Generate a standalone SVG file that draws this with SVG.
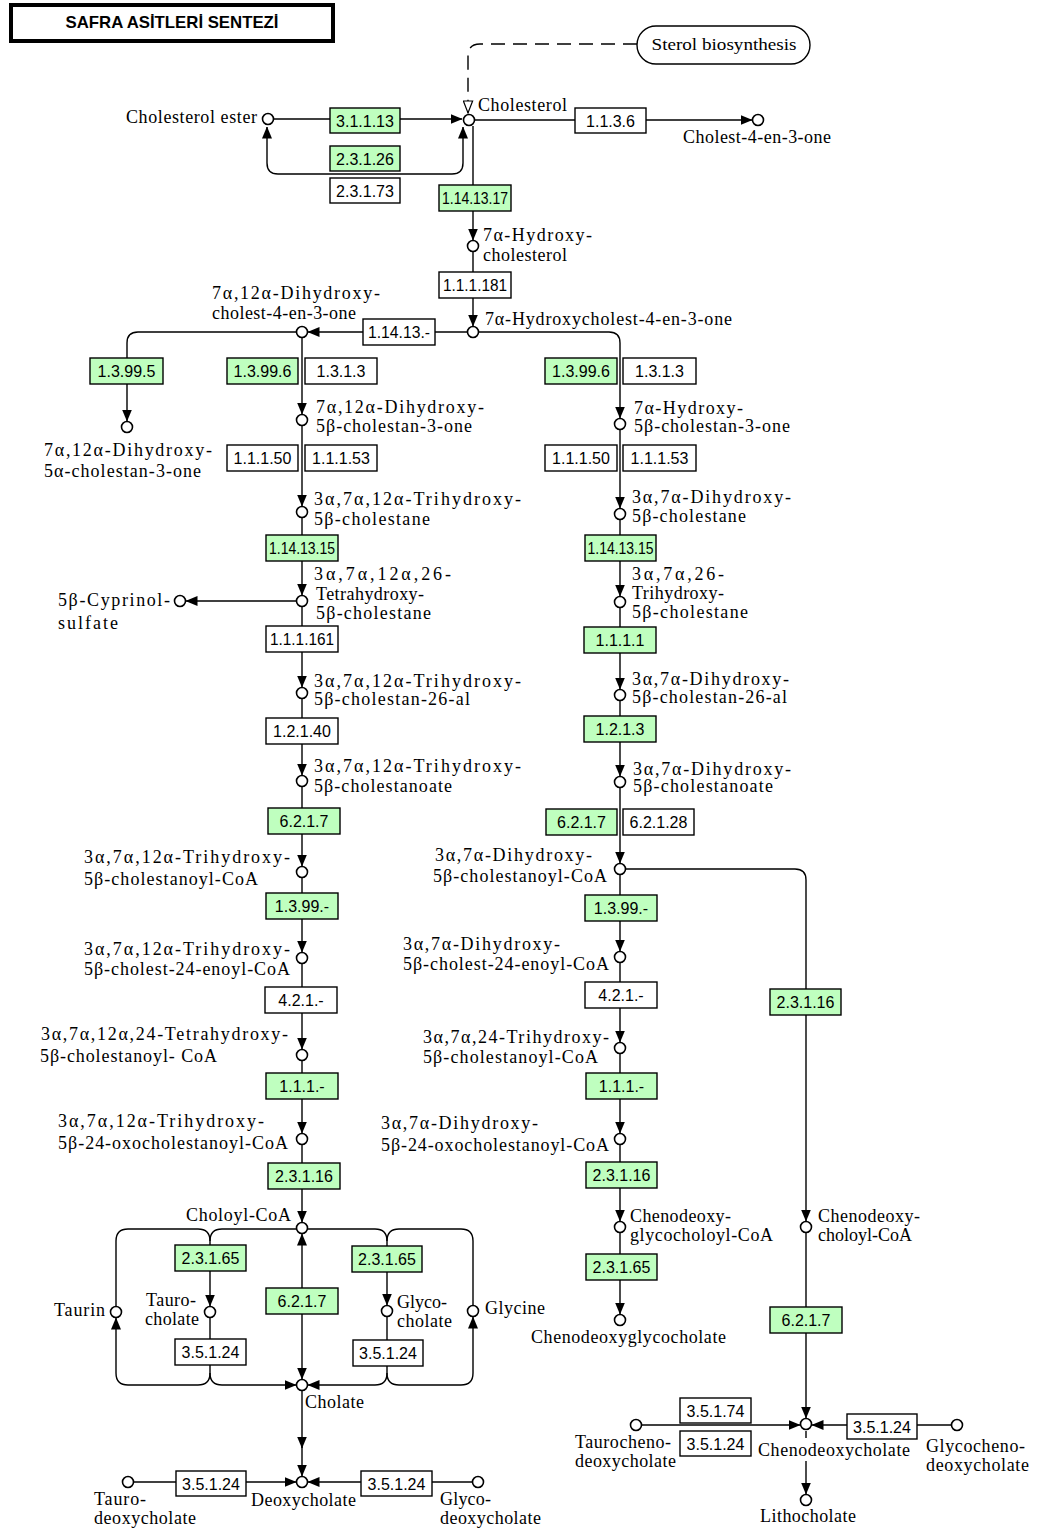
<svg xmlns="http://www.w3.org/2000/svg" width="1038" height="1531" viewBox="0 0 1038 1531">
<style>
.bg{fill:#fff}
.e rect{fill:#fff;stroke:#000;stroke-width:1.4}
.g rect{fill:#bfffbf}
.e text{font-family:"Liberation Sans",Arial,sans-serif;font-size:16px;text-anchor:middle;fill:#000}
.c circle{fill:#fff;stroke:#000;stroke-width:1.6}
.c text{font-family:"Liberation Serif","Times New Roman",serif;font-size:18px;fill:#000}
.ln{fill:none;stroke:#000;stroke-width:1.4}
.dash{fill:none;stroke:#000;stroke-width:1.4;stroke-dasharray:14,8}
.ar{marker-end:url(#a)}
.ar2{marker-start:url(#a);marker-end:url(#a)}
</style>
<defs>
<marker id="a" viewBox="0 0 12 11" refX="11.5" refY="5.5" markerWidth="12" markerHeight="11" markerUnits="userSpaceOnUse" orient="auto-start-reverse"><path d="M0,0.5 L12,5.5 L0,10.5 z" fill="#000"/></marker>
<marker id="o" viewBox="0 0 12 10" refX="11.5" refY="5" markerWidth="14" markerHeight="11" markerUnits="userSpaceOnUse" orient="auto"><path d="M0.6,0.8 L11.4,5 L0.6,9.2 z" fill="#fff" stroke="#000" stroke-width="1.1"/></marker>
</defs>
<rect class="bg" x="0" y="0" width="1038" height="1531"/>

<g id="title">
<rect x="11" y="5" width="322" height="36" fill="#fff" stroke="#000" stroke-width="4"/>
<text x="172" y="28" font-family="Liberation Sans,Arial,sans-serif" font-weight="bold" font-size="17" text-anchor="middle" textLength="213" lengthAdjust="spacingAndGlyphs">SAFRA ASİTLERİ SENTEZİ</text>
</g>

<g id="connectors">
<path class="dash" d="M637,44 H480 Q468,44 468,56 V113" marker-end="url(#o)"/>
<path class="ln ar" d="M274,119 H462"/>
<path class="ln ar2" d="M267,127 V163 Q267,174 278,174 H452 Q463,174 463,163 V127"/>
<path class="ln ar" d="M475,120 H752"/>
<path class="ln ar" d="M473,126 V240"/>
<path class="ln ar" d="M473,252 V326"/>
<path class="ln ar" d="M467,332 H308"/>
<path class="ln ar" d="M296,332 H138 Q127,332 127,343 V421"/>
<path class="ln ar" d="M302,338 V414"/>
<path class="ln ar" d="M302,426 V506"/>
<path class="ln ar" d="M302,518 V595"/>
<path class="ln ar" d="M296,601 H186"/>
<path class="ln ar" d="M302,607 V687"/>
<path class="ln ar" d="M302,699 V775"/>
<path class="ln ar" d="M302,787 V866"/>
<path class="ln ar" d="M302,878 V952"/>
<path class="ln ar" d="M302,964 V1049"/>
<path class="ln ar" d="M302,1061 V1133"/>
<path class="ln ar" d="M302,1145 V1222"/>
<path class="ln ar" d="M479,332 H609 Q620,332 620,343 V418"/>
<path class="ln ar" d="M620,430 V508"/>
<path class="ln ar" d="M620,520 V596"/>
<path class="ln ar" d="M620,608 V689"/>
<path class="ln ar" d="M620,701 V776"/>
<path class="ln ar" d="M620,788 V863"/>
<path class="ln ar" d="M626,869 H795 Q806,869 806,880 V1221"/>
<path class="ln ar" d="M620,875 V951"/>
<path class="ln ar" d="M620,963 V1042"/>
<path class="ln ar" d="M620,1054 V1133"/>
<path class="ln ar" d="M620,1145 V1221"/>
<path class="ln ar" d="M620,1233 V1314"/>
<path class="ln ar" d="M806,1233 V1418"/>
<path class="ln ar" d="M642,1425 H800"/>
<path class="ln ar" d="M951,1425 H812"/>
<path class="ln" d="M806,1431 V1438"/>
<path class="ln ar" d="M806,1461 V1494"/>
<path class="ln" d="M116,1306 V1241 Q116,1229 128,1229 H198 Q210,1229 210,1241 V1246"/>
<path class="ln" d="M296,1229 H222 Q210,1229 210,1241"/>
<path class="ln ar" d="M210,1271 V1306"/>
<path class="ln" d="M210,1318 V1340"/>
<path class="ln ar" d="M210,1365 V1373 Q210,1385 198,1385 H128 Q116,1385 116,1373 V1318"/>
<path class="ln ar" d="M210,1373 Q210,1385 222,1385 H296"/>
<path class="ln" d="M308,1229 H375 Q387,1229 387,1241 V1246"/>
<path class="ln" d="M473,1305 V1241 Q473,1229 461,1229 H399 Q387,1229 387,1241"/>
<path class="ln ar" d="M387,1272 V1305"/>
<path class="ln" d="M387,1317 V1340"/>
<path class="ln ar" d="M387,1366 V1373 Q387,1385 375,1385 H308"/>
<path class="ln ar" d="M387,1373 Q387,1385 399,1385 H461 Q473,1385 473,1373 V1317"/>
<path class="ln ar2" d="M302,1234 V1379"/>
<path class="ln ar" d="M302,1391 V1448"/>
<path class="ln ar" d="M302,1446 V1476"/>
<path class="ln ar" d="M134,1482 H296"/>
<path class="ln ar" d="M472,1482 H308"/>
</g>

<g id="sterol-biosynthesis"><rect x="637" y="26" width="173" height="38" rx="19" fill="#fff" stroke="#000" stroke-width="1.4"/><text x="724" y="50" font-family="Liberation Serif,serif" font-size="17" text-anchor="middle" textLength="145" lengthAdjust="spacingAndGlyphs">Sterol biosynthesis</text></g>

<g id="c-cholesterol" class="c"><circle cx="469" cy="120" r="5.5"/><text x="478" y="111" textLength="89">Cholesterol</text></g>
<g id="c-cholesterol-ester" class="c"><circle cx="268" cy="119" r="5.5"/><text x="126" y="123" textLength="131">Cholesterol ester</text></g>
<g id="c-cholest-4-en-3-one" class="c"><circle cx="758" cy="120" r="5.5"/><text x="683" y="143" textLength="148">Cholest-4-en-3-one</text></g>
<g id="c-7a-hydroxycholesterol" class="c"><circle cx="473" cy="246" r="5.5"/><text x="483" y="241" textLength="109">7α-Hydroxy-</text><text x="483" y="261" textLength="84">cholesterol</text></g>
<g id="c-7a-hydroxycholest-4-en-3-one" class="c"><circle cx="473" cy="332" r="5.5"/><text x="485" y="325" textLength="247">7α-Hydroxycholest-4-en-3-one</text></g>
<g id="c-7a12a-dihydroxycholest-4-en-3-one" class="c"><circle cx="302" cy="332" r="5.5"/><text x="212" y="299" textLength="168">7α,12α-Dihydroxy-</text><text x="212" y="319" textLength="144">cholest-4-en-3-one</text></g>
<g id="c-7a12a-dihydroxy-5a-cholestan-3-one" class="c"><circle cx="127" cy="427" r="5.5"/><text x="44" y="456" textLength="168">7α,12α-Dihydroxy-</text><text x="44" y="477" textLength="157">5α-cholestan-3-one</text></g>
<g id="c-7a12a-dihydroxy-5b-cholestan-3-one" class="c"><circle cx="302" cy="420" r="5.5"/><text x="316" y="413" textLength="168">7α,12α-Dihydroxy-</text><text x="316" y="432" textLength="156">5β-cholestan-3-one</text></g>
<g id="c-trihydroxy-5b-cholestane" class="c"><circle cx="302" cy="512" r="5.5"/><text x="314" y="505" textLength="207">3α,7α,12α-Trihydroxy-</text><text x="314" y="525" textLength="116">5β-cholestane</text></g>
<g id="c-tetrahydroxy-5b-cholestane" class="c"><circle cx="302" cy="601" r="5.5"/><text x="314" y="580" textLength="137">3α,7α,12α,26-</text><text x="316" y="600" textLength="108">Tetrahydroxy-</text><text x="316" y="619" textLength="115">5β-cholestane</text></g>
<g id="c-5b-cyprinol-sulfate" class="c"><circle cx="180" cy="601" r="5.5"/><text x="58" y="606" textLength="112">5β-Cyprinol-</text><text x="58" y="629" font-size="20" textLength="60">sulfate</text></g>
<g id="c-trihydroxy-5b-cholestan-26-al" class="c"><circle cx="302" cy="693" r="5.5"/><text x="314" y="687" textLength="207">3α,7α,12α-Trihydroxy-</text><text x="314" y="705" textLength="156">5β-cholestan-26-al</text></g>
<g id="c-trihydroxy-5b-cholestanoate" class="c"><circle cx="302" cy="781" r="5.5"/><text x="314" y="772" textLength="207">3α,7α,12α-Trihydroxy-</text><text x="314" y="792" textLength="138">5β-cholestanoate</text></g>
<g id="c-trihydroxy-5b-cholestanoyl-coa" class="c"><circle cx="302" cy="872" r="5.5"/><text x="84" y="863" textLength="206">3α,7α,12α-Trihydroxy-</text><text x="84" y="885" textLength="174">5β-cholestanoyl-CoA</text></g>
<g id="c-trihydroxy-5b-cholest-24-enoyl-coa" class="c"><circle cx="302" cy="958" r="5.5"/><text x="84" y="955" textLength="206">3α,7α,12α-Trihydroxy-</text><text x="84" y="975" textLength="206">5β-cholest-24-enoyl-CoA</text></g>
<g id="c-tetrahydroxy-5b-cholestanoyl-coa" class="c"><circle cx="302" cy="1055" r="5.5"/><text x="41" y="1040" textLength="247">3α,7α,12α,24-Tetrahydroxy-</text><text x="40" y="1062" textLength="177">5β-cholestanoyl- CoA</text></g>
<g id="c-trihydroxy-5b-24-oxocholestanoyl-coa" class="c"><circle cx="302" cy="1139" r="5.5"/><text x="58" y="1127" textLength="206">3α,7α,12α-Trihydroxy-</text><text x="58" y="1149" textLength="230">5β-24-oxocholestanoyl-CoA</text></g>
<g id="c-choloyl-coa" class="c"><circle cx="302" cy="1228" r="5.5"/><text x="186" y="1221" textLength="105">Choloyl-CoA</text></g>
<g id="c-taurocholate" class="c"><circle cx="210" cy="1312" r="5.5"/><text x="146" y="1306" textLength="50">Tauro-</text><text x="145" y="1325" textLength="54">cholate</text></g>
<g id="c-taurin" class="c"><circle cx="116" cy="1312" r="5.5"/><text x="54" y="1316" textLength="51">Taurin</text></g>
<g id="c-glycocholate" class="c"><circle cx="387" cy="1311" r="5.5"/><text x="397" y="1308" textLength="50">Glyco-</text><text x="397" y="1327" textLength="55">cholate</text></g>
<g id="c-glycine" class="c"><circle cx="473" cy="1311" r="5.5"/><text x="485" y="1314" textLength="60">Glycine</text></g>
<g id="c-cholate" class="c"><circle cx="302" cy="1385" r="5.5"/><text x="305" y="1408" textLength="59">Cholate</text></g>
<g id="c-deoxycholate" class="c"><circle cx="302" cy="1482" r="5.5"/><text x="251" y="1506" textLength="105">Deoxycholate</text></g>
<g id="c-taurodeoxycholate" class="c"><circle cx="128" cy="1482" r="5.5"/><text x="94" y="1505" textLength="52">Tauro-</text><text x="94" y="1524" textLength="102">deoxycholate</text></g>
<g id="c-glycodeoxycholate" class="c"><circle cx="478" cy="1482" r="5.5"/><text x="440" y="1505" textLength="51">Glyco-</text><text x="440" y="1524" textLength="101">deoxycholate</text></g>

<g id="c-7a-hydroxy-5b-cholestan-3-one" class="c"><circle cx="620" cy="424" r="5.5"/><text x="634" y="414" textLength="109">7α-Hydroxy-</text><text x="634" y="432" textLength="156">5β-cholestan-3-one</text></g>
<g id="c-dihydroxy-5b-cholestane" class="c"><circle cx="620" cy="514" r="5.5"/><text x="632" y="503" textLength="159">3α,7α-Dihydroxy-</text><text x="632" y="522" textLength="114">5β-cholestane</text></g>
<g id="c-trihydroxy26-5b-cholestane" class="c"><circle cx="620" cy="602" r="5.5"/><text x="632" y="580" textLength="92">3α,7α,26-</text><text x="632" y="599" textLength="92">Trihydroxy-</text><text x="632" y="618" textLength="116">5β-cholestane</text></g>
<g id="c-dihydroxy-5b-cholestan-26-al" class="c"><circle cx="620" cy="695" r="5.5"/><text x="632" y="685" textLength="157">3α,7α-Dihydroxy-</text><text x="632" y="703" textLength="155">5β-cholestan-26-al</text></g>
<g id="c-dihydroxy-5b-cholestanoate" class="c"><circle cx="620" cy="782" r="5.5"/><text x="633" y="775" textLength="158">3α,7α-Dihydroxy-</text><text x="633" y="792" textLength="140">5β-cholestanoate</text></g>
<g id="c-dihydroxy-5b-cholestanoyl-coa" class="c"><circle cx="620" cy="869" r="5.5"/><text x="435" y="861" textLength="157">3α,7α-Dihydroxy-</text><text x="433" y="882" textLength="174">5β-cholestanoyl-CoA</text></g>
<g id="c-dihydroxy-5b-cholest-24-enoyl-coa" class="c"><circle cx="620" cy="957" r="5.5"/><text x="403" y="950" textLength="157">3α,7α-Dihydroxy-</text><text x="403" y="970" textLength="206">5β-cholest-24-enoyl-CoA</text></g>
<g id="c-trihydroxy24-5b-cholestanoyl-coa" class="c"><circle cx="620" cy="1048" r="5.5"/><text x="423" y="1043" textLength="186">3α,7α,24-Trihydroxy-</text><text x="423" y="1063" textLength="175">5β-cholestanoyl-CoA</text></g>
<g id="c-dihydroxy-5b-24-oxocholestanoyl-coa" class="c"><circle cx="620" cy="1139" r="5.5"/><text x="381" y="1129" textLength="157">3α,7α-Dihydroxy-</text><text x="381" y="1151" textLength="228">5β-24-oxocholestanoyl-CoA</text></g>
<g id="c-chenodeoxyglycocholoyl-coa" class="c"><circle cx="620" cy="1227" r="5.5"/><text x="630" y="1222" textLength="101">Chenodeoxy-</text><text x="630" y="1241" textLength="143">glycocholoyl-CoA</text></g>
<g id="c-chenodeoxyglycocholate" class="c"><circle cx="620" cy="1320" r="5.5"/><text x="531" y="1343" textLength="195">Chenodeoxyglycocholate</text></g>
<g id="c-chenodeoxycholoyl-coa" class="c"><circle cx="806" cy="1227" r="5.5"/><text x="818" y="1222" textLength="102">Chenodeoxy-</text><text x="818" y="1241" textLength="94">choloyl-CoA</text></g>
<g id="c-chenodeoxycholate" class="c"><circle cx="806" cy="1424" r="5.5"/><text x="758" y="1456" textLength="152">Chenodeoxycholate</text></g>
<g id="c-taurochenodeoxycholate" class="c"><circle cx="636" cy="1425" r="5.5"/><text x="575" y="1448" textLength="96">Taurocheno-</text><text x="575" y="1467" textLength="101">deoxycholate</text></g>
<g id="c-glycochenodeoxycholate" class="c"><circle cx="957" cy="1425" r="5.5"/><text x="926" y="1452" textLength="99">Glycocheno-</text><text x="926" y="1471" textLength="103">deoxycholate</text></g>
<g id="c-lithocholate" class="c"><circle cx="806" cy="1500" r="5.5"/><text x="760" y="1522" textLength="96">Lithocholate</text></g>

<g id="e-3.1.1.13" class="e g"><rect x="330" y="108" width="70" height="25"/><text x="365" y="126.5">3.1.1.13</text></g>
<g id="e-2.3.1.26" class="e g"><rect x="330" y="146" width="70" height="25"/><text x="365" y="164.5">2.3.1.26</text></g>
<g id="e-2.3.1.73" class="e"><rect x="330" y="178" width="70" height="25"/><text x="365" y="196.5">2.3.1.73</text></g>
<g id="e-1.1.3.6" class="e"><rect x="575" y="108" width="71" height="25"/><text x="610.5" y="126.5">1.1.3.6</text></g>
<g id="e-1.14.13.17" class="e g"><rect x="439" y="185" width="72" height="26"/><text x="475" y="204" textLength="66" lengthAdjust="spacingAndGlyphs">1.14.13.17</text></g>
<g id="e-1.1.1.181" class="e"><rect x="439" y="272" width="72" height="26"/><text x="475" y="291" textLength="64" lengthAdjust="spacingAndGlyphs">1.1.1.181</text></g>
<g id="e-1.14.13.-" class="e"><rect x="363" y="319" width="72" height="26"/><text x="399" y="338" textLength="62" lengthAdjust="spacingAndGlyphs">1.14.13.-</text></g>
<g id="e-1.3.99.5" class="e g"><rect x="90" y="358" width="73" height="26"/><text x="126.5" y="377">1.3.99.5</text></g>
<g id="e-1.3.99.6-a" class="e g"><rect x="227" y="358" width="71" height="26"/><text x="262.5" y="377">1.3.99.6</text></g>
<g id="e-1.3.1.3-a" class="e"><rect x="305" y="358" width="72" height="26"/><text x="341" y="377">1.3.1.3</text></g>
<g id="e-1.1.1.50-a" class="e"><rect x="227" y="445" width="71" height="26"/><text x="262.5" y="464">1.1.1.50</text></g>
<g id="e-1.1.1.53-a" class="e"><rect x="305" y="445" width="72" height="26"/><text x="341" y="464">1.1.1.53</text></g>
<g id="e-1.14.13.15-a" class="e g"><rect x="266" y="535" width="72" height="26"/><text x="302" y="554" textLength="66" lengthAdjust="spacingAndGlyphs">1.14.13.15</text></g>
<g id="e-1.1.1.161" class="e"><rect x="266" y="626" width="72" height="26"/><text x="302" y="645" textLength="64" lengthAdjust="spacingAndGlyphs">1.1.1.161</text></g>
<g id="e-1.2.1.40" class="e"><rect x="266" y="718" width="72" height="26"/><text x="302" y="737">1.2.1.40</text></g>
<g id="e-6.2.1.7-a" class="e g"><rect x="268" y="808" width="72" height="26"/><text x="304" y="827">6.2.1.7</text></g>
<g id="e-1.3.99.--a" class="e g"><rect x="266" y="893" width="72" height="26"/><text x="302" y="912">1.3.99.-</text></g>
<g id="e-4.2.1.--a" class="e"><rect x="265" y="987" width="72" height="26"/><text x="301" y="1006">4.2.1.-</text></g>
<g id="e-1.1.1.--a" class="e g"><rect x="266" y="1073" width="72" height="26"/><text x="302" y="1092">1.1.1.-</text></g>
<g id="e-2.3.1.16-a" class="e g"><rect x="268" y="1163" width="72" height="26"/><text x="304" y="1182">2.3.1.16</text></g>
<g id="e-2.3.1.65-a" class="e g"><rect x="175" y="1245" width="71" height="26"/><text x="210.5" y="1264">2.3.1.65</text></g>
<g id="e-2.3.1.65-b" class="e g"><rect x="352" y="1246" width="70" height="26"/><text x="387" y="1265">2.3.1.65</text></g>
<g id="e-6.2.1.7-b" class="e g"><rect x="266" y="1288" width="72" height="26"/><text x="302" y="1307">6.2.1.7</text></g>
<g id="e-3.5.1.24-a" class="e"><rect x="175" y="1339" width="71" height="26"/><text x="210.5" y="1358">3.5.1.24</text></g>
<g id="e-3.5.1.24-b" class="e"><rect x="353" y="1340" width="70" height="26"/><text x="388" y="1359">3.5.1.24</text></g>
<g id="e-3.5.1.24-c" class="e"><rect x="176" y="1471" width="70" height="25"/><text x="211" y="1489.5">3.5.1.24</text></g>
<g id="e-3.5.1.24-d" class="e"><rect x="361" y="1471" width="71" height="25"/><text x="396.5" y="1489.5">3.5.1.24</text></g>

<g id="e-1.3.99.6-b" class="e g"><rect x="545" y="358" width="72" height="26"/><text x="581" y="377">1.3.99.6</text></g>
<g id="e-1.3.1.3-b" class="e"><rect x="623" y="358" width="73" height="26"/><text x="659.5" y="377">1.3.1.3</text></g>
<g id="e-1.1.1.50-b" class="e"><rect x="545" y="445" width="72" height="26"/><text x="581" y="464">1.1.1.50</text></g>
<g id="e-1.1.1.53-b" class="e"><rect x="623" y="445" width="73" height="26"/><text x="659.5" y="464">1.1.1.53</text></g>
<g id="e-1.14.13.15-b" class="e g"><rect x="585" y="535" width="71" height="26"/><text x="620.5" y="554" textLength="66" lengthAdjust="spacingAndGlyphs">1.14.13.15</text></g>
<g id="e-1.1.1.1" class="e g"><rect x="584" y="627" width="72" height="26"/><text x="620" y="646">1.1.1.1</text></g>
<g id="e-1.2.1.3" class="e g"><rect x="584" y="716" width="72" height="26"/><text x="620" y="735">1.2.1.3</text></g>
<g id="e-6.2.1.7-c" class="e g"><rect x="546" y="809" width="71" height="26"/><text x="581.5" y="828">6.2.1.7</text></g>
<g id="e-6.2.1.28" class="e"><rect x="623" y="809" width="71" height="26"/><text x="658.5" y="828">6.2.1.28</text></g>
<g id="e-1.3.99.--b" class="e g"><rect x="585" y="895" width="72" height="26"/><text x="621" y="914">1.3.99.-</text></g>
<g id="e-4.2.1.--b" class="e"><rect x="585" y="982" width="72" height="26"/><text x="621" y="1001">4.2.1.-</text></g>
<g id="e-1.1.1.--b" class="e g"><rect x="586" y="1073" width="71" height="26"/><text x="621.5" y="1092">1.1.1.-</text></g>
<g id="e-2.3.1.16-b" class="e g"><rect x="586" y="1162" width="71" height="26"/><text x="621.5" y="1181">2.3.1.16</text></g>
<g id="e-2.3.1.65-c" class="e g"><rect x="586" y="1254" width="71" height="26"/><text x="621.5" y="1273">2.3.1.65</text></g>
<g id="e-2.3.1.16-c" class="e g"><rect x="770" y="989" width="71" height="26"/><text x="805.5" y="1008">2.3.1.16</text></g>
<g id="e-6.2.1.7-d" class="e g"><rect x="770" y="1307" width="72" height="26"/><text x="806" y="1326">6.2.1.7</text></g>
<g id="e-3.5.1.74" class="e"><rect x="680" y="1398" width="71" height="25"/><text x="715.5" y="1416.5">3.5.1.74</text></g>
<g id="e-3.5.1.24-e" class="e"><rect x="680" y="1431" width="71" height="25"/><text x="715.5" y="1449.5">3.5.1.24</text></g>
<g id="e-3.5.1.24-f" class="e"><rect x="847" y="1414" width="70" height="25"/><text x="882" y="1432.5">3.5.1.24</text></g>
</svg>
